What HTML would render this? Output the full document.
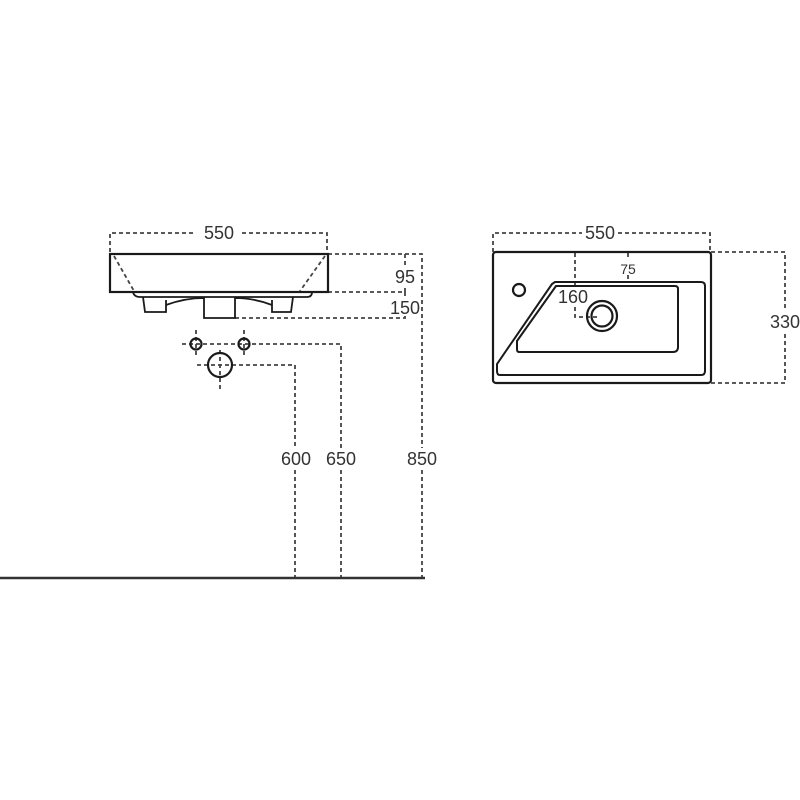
<!DOCTYPE html>
<html><head><meta charset="utf-8"><style>html,body{margin:0;padding:0;background:#fff}svg{display:block}</style></head>
<body>
<svg width="800" height="800" viewBox="0 0 800 800" xmlns="http://www.w3.org/2000/svg" font-family="Liberation Sans, sans-serif" font-size="18" fill="none">
<g stroke="#444" stroke-width="1.8" stroke-dasharray="4,3">
 <path d="M110,252 V233 H196 M242,233 H327 V252"/>
 <path d="M114,256 L134,291 M325,256 L300,291"/>
 <path d="M328,254 H422 V448 M422,470 V578"/>
 <path d="M328,292 H405 V286 M405,254 V266 M405,292 V298 M235,318 H405 V316"/>
 <path d="M182,344 H341 V448 M341,470 V578"/>
 <path d="M196,330 V358 M244,330 V358"/>
 <path d="M197,365 H295 V448 M295,470 V578"/>
 <path d="M220,350 V390"/>
 <path d="M493,252 V233 H582 M618,233 H710 V252"/>
 <path d="M711,252 H785 V310 M785,334 V383 H711"/>
 <path d="M575,253 V287 M575,307 V317 H600"/>
 <path d="M628,253 V260 M628,275 V283"/>
</g>
<g stroke="#1a1a1a" stroke-width="2.2">
 <rect x="110" y="254" width="218" height="38"/>
 <path d="M133,292 Q134,297 140,297 H307 Q312,297 312,292" stroke-width="1.8"/>
 <path d="M143,297 L145,312 H166 V300 M293,297 L291,312 H272 V300" stroke-width="1.8"/>
 <path d="M166,305 Q185,298 204,298 V318 H235 V298 Q254,298 272,305" stroke-width="1.8"/>
 <circle cx="196" cy="344" r="5.5"/>
 <circle cx="244" cy="344" r="5.5"/>
 <circle cx="220" cy="365" r="12"/>
 <path d="M0,578 H425" stroke="#333" stroke-width="2.5"/>
 <rect x="493" y="252" width="218" height="131" rx="3"/>
 <path d="M555,282 H701 Q705,282 705,286 V371 Q705,375 701,375 H500 Q497,375 497,371 V364 L552,284 Z" stroke-width="2"/>
 <path d="M556,286 H675 Q678,286 678,289 V347 Q678,352 673,352 H519 Q517,352 517,349 V341 Z" stroke-width="2"/>
 <circle cx="519" cy="290" r="6"/>
 <circle cx="602" cy="316" r="15"/>
 <circle cx="602" cy="316" r="10.5"/>
</g>
<g fill="#333" stroke="none" text-anchor="middle">
 <text x="219" y="239">550</text>
 <text x="405" y="283">95</text>
 <text x="405" y="314">150</text>
 <text x="296" y="465">600</text>
 <text x="341" y="465">650</text>
 <text x="422" y="465">850</text>
 <text x="600" y="239">550</text>
 <text x="628" y="274" font-size="14">75</text>
 <text x="573" y="303">160</text>
 <text x="785" y="328">330</text>
</g>
</svg>
</body></html>
